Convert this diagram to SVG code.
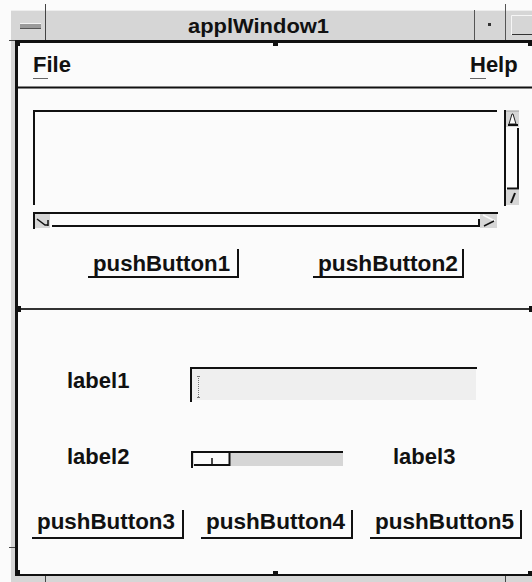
<svg xmlns="http://www.w3.org/2000/svg" width="532" height="582" viewBox="0 0 532 582">
  <style>
    .t { font-family: "Liberation Sans", Arial, Helvetica, sans-serif; font-weight: bold; fill: #111; }
    .lbl { font-size: 22px; }
    .ttl { font-size: 21px; }
    .shadow { stroke: #111; stroke-width: 2; fill: none; }
    .frame { stroke: #111; stroke-width: 3; fill: none; }
    .grip { fill: #111; }
  </style>

  <!-- window background -->
  <rect x="0" y="0" width="532" height="582" fill="#fbfbfb"/>

  <!-- outer decoration strips -->
  <g id="decor">
    <rect x="11" y="10" width="521" height="31" fill="#d6d6d6"/>
    <rect x="11" y="40" width="4" height="536" fill="#d6d6d6"/>
    <rect x="11" y="576" width="521" height="6" fill="#d6d6d6"/>
    <line x1="11" y1="10.5" x2="532" y2="10.5" stroke="#eeeeee" stroke-width="1"/>
    <line x1="45.5" y1="4" x2="45.5" y2="40" stroke="#444" stroke-width="1"/>
    <line x1="474.5" y1="10" x2="474.5" y2="40" stroke="#555" stroke-width="1"/>
    <line x1="505.5" y1="4" x2="505.5" y2="40" stroke="#555" stroke-width="1"/>
    <line x1="9" y1="40.5" x2="17" y2="40.5" stroke="#444" stroke-width="1"/>
    <line x1="9" y1="547.5" x2="17" y2="547.5" stroke="#444" stroke-width="1"/>
    <line x1="45.5" y1="576" x2="45.5" y2="582" stroke="#444" stroke-width="1"/>
    <line x1="505.5" y1="576" x2="505.5" y2="582" stroke="#444" stroke-width="1"/>
  </g>

  <!-- title bar -->
  <g id="titlebar">
    <rect x="20" y="23" width="21" height="5" fill="#9a9a9a"/>
    <line x1="20" y1="23.5" x2="41" y2="23.5" stroke="#f4f4f4" stroke-width="1"/>
    <line x1="20" y1="28.5" x2="41" y2="28.5" stroke="#555" stroke-width="1"/>
    <text class="t ttl" x="188" y="33" textLength="141" lengthAdjust="spacingAndGlyphs">applWindow1</text>
    <rect x="488" y="23" width="3" height="3" fill="#333"/>
    <rect x="511" y="15" width="21" height="20" fill="#d6d6d6"/>
    <path d="M511.5 35 V15.5 H532" stroke="#f6f6f6" stroke-width="1" fill="none"/>
    <path d="M512 34.5 H532" stroke="#333" stroke-width="1" fill="none"/>
  </g>

  <!-- main window frame -->
  <g id="frame">
    <path d="M16.5 575 V41.5 H532" class="frame"/>
    <line x1="15" y1="575" x2="532" y2="575" stroke="#111" stroke-width="2"/>
    <rect x="15" y="40" width="5" height="6" class="grip"/>
    <rect x="273" y="40" width="5" height="6" class="grip"/>
    <rect x="528" y="40" width="4" height="6" class="grip"/>
    <rect x="15" y="570" width="5" height="6" class="grip"/>
    <rect x="273" y="571" width="5" height="4" class="grip"/>
    <rect x="528" y="571" width="4" height="4" class="grip"/>
  </g>

  <!-- menu bar -->
  <g id="menubar">
    <text class="t lbl" x="33" y="72">File</text>
    <line x1="33" y1="78.5" x2="48" y2="78.5" stroke="#666" stroke-width="1"/>
    <text class="t lbl" x="470" y="72">Help</text>
    <line x1="470" y1="78.5" x2="486" y2="78.5" stroke="#666" stroke-width="1"/>
    <line x1="17" y1="87.5" x2="532" y2="87.5" stroke="#111" stroke-width="2"/>
  </g>

  <!-- scrolled text area -->
  <g id="scrolledText">
    <path d="M34 205 V111 H497" class="shadow"/>
    <!-- vertical scrollbar -->
    <rect x="506" y="111" width="13" height="16" fill="#d6d6d6"/>
    <rect x="506" y="190" width="13" height="15" fill="#d6d6d6"/>
    <line x1="505" y1="110" x2="505" y2="206" stroke="#111" stroke-width="2"/>
    <line x1="506" y1="111" x2="519" y2="111" stroke="#999" stroke-width="1"/>
    <path d="M509 124 L512 114 L513 114 L516 124 Z" fill="#fbfbfb" stroke="#222" stroke-width="1"/>
    <line x1="508" y1="125" x2="518" y2="125" stroke="#111" stroke-width="2"/>
    <line x1="518" y1="128" x2="518" y2="189" stroke="#111" stroke-width="2"/>
    <line x1="507" y1="188.5" x2="519" y2="188.5" stroke="#111" stroke-width="2"/>
    <line x1="511" y1="203" x2="515" y2="193" stroke="#111" stroke-width="2"/>
    <!-- horizontal scrollbar -->
    <rect x="34" y="214" width="16" height="14" fill="#d6d6d6"/>
    <rect x="480" y="214" width="17" height="14" fill="#d6d6d6"/>
    <line x1="33" y1="213" x2="498" y2="213" stroke="#111" stroke-width="2"/>
    <line x1="34" y1="213" x2="34" y2="229" stroke="#111" stroke-width="2"/>
    <path d="M37 219 L45 225 L48 225" stroke="#111" stroke-width="1.5" fill="none"/>
    <line x1="48" y1="220" x2="48" y2="226" stroke="#111" stroke-width="1.5"/>
    <line x1="52" y1="226" x2="480" y2="226" stroke="#111" stroke-width="2"/>
    <line x1="479" y1="219" x2="479" y2="227" stroke="#111" stroke-width="2"/>
    <path d="M483 215 L495 221" stroke="#fbfbfb" stroke-width="1.5" fill="none"/>
    <line x1="484" y1="226" x2="494" y2="221" stroke="#111" stroke-width="1.5"/>
  </g>

  <!-- push buttons, upper form -->
  <g id="pushButton1">
    <path d="M88 277 H238 V249" class="shadow"/>
    <text class="t lbl" x="93" y="271" textLength="137" lengthAdjust="spacingAndGlyphs">pushButton1</text>
  </g>
  <g id="pushButton2">
    <path d="M313 277 H463 V249" class="shadow"/>
    <text class="t lbl" x="318" y="271" textLength="140" lengthAdjust="spacingAndGlyphs">pushButton2</text>
  </g>

  <!-- pane separator -->
  <g id="separator">
    <line x1="17" y1="309" x2="530" y2="309" stroke="#333" stroke-width="2"/>
    <rect x="16" y="306" width="5" height="6" class="grip"/>
    <rect x="529" y="306" width="3" height="6" class="grip"/>
  </g>

  <!-- lower form -->
  <g id="label1">
    <text class="t lbl" x="67" y="388">label1</text>
  </g>
  <g id="textField">
    <rect x="192" y="369" width="284" height="31" fill="#efefef"/>
    <path d="M191 402 V368 H477" class="shadow"/>
    <line x1="198.5" y1="376" x2="198.5" y2="398" stroke="#777" stroke-width="1" stroke-dasharray="1 1"/>
    <line x1="197" y1="376.5" x2="200" y2="376.5" stroke="#777" stroke-width="1"/>
    <line x1="197" y1="397.5" x2="200" y2="397.5" stroke="#777" stroke-width="1"/>
  </g>

  <g id="label2">
    <text class="t lbl" x="67" y="464">label2</text>
  </g>
  <g id="scale">
    <rect x="193" y="452" width="150" height="14" fill="#d6d6d6"/>
    <path d="M192 468 V452 H343" class="shadow"/>
    <rect x="194" y="453" width="35" height="12" fill="#fbfbfb"/>
    <line x1="194" y1="465" x2="230" y2="465" stroke="#111" stroke-width="2"/>
    <line x1="229.5" y1="453" x2="229.5" y2="466" stroke="#111" stroke-width="2"/>
    <line x1="212" y1="458" x2="212" y2="465" stroke="#111" stroke-width="1.5"/>
  </g>
  <g id="label3">
    <text class="t lbl" x="393" y="464">label3</text>
  </g>

  <g id="pushButton3">
    <path d="M32 538 H183 V510" class="shadow"/>
    <text class="t lbl" x="37" y="529" textLength="138" lengthAdjust="spacingAndGlyphs">pushButton3</text>
  </g>
  <g id="pushButton4">
    <path d="M201 538 H352 V510" class="shadow"/>
    <text class="t lbl" x="206" y="529" textLength="139" lengthAdjust="spacingAndGlyphs">pushButton4</text>
  </g>
  <g id="pushButton5">
    <path d="M370 538 H521 V510" class="shadow"/>
    <text class="t lbl" x="375" y="529" textLength="139" lengthAdjust="spacingAndGlyphs">pushButton5</text>
  </g>
</svg>
